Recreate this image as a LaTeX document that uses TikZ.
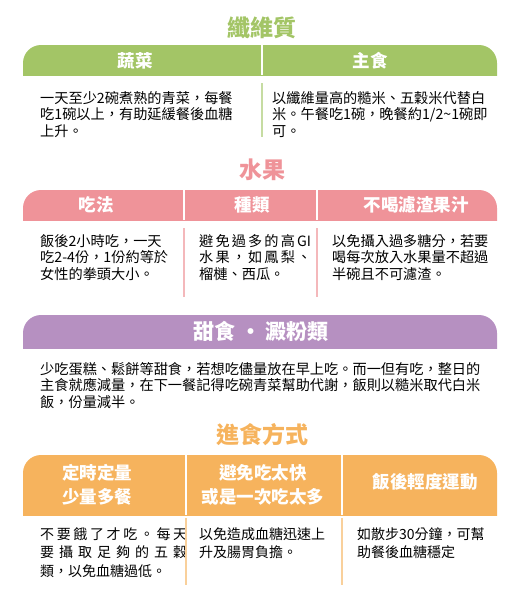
\documentclass[tikz,border=0pt]{standalone}
\usepackage{fontspec}
\setmainfont{Noto Sans CJK TC}
\definecolor{fibre}{HTML}{A3C566}
\definecolor{fibreline}{HTML}{C6DCA2}
\definecolor{fruit}{HTML}{EF9399}
\definecolor{fruitline}{HTML}{F4B8BB}
\definecolor{sweet}{HTML}{B690C1}
\definecolor{habit}{HTML}{F6B35D}
\definecolor{habitline}{HTML}{F9D09B}
% header band with round top corners
\newcommand{\band}[3]{%
  \begin{scope}
    \clip (23,#2) rectangle (497,#3);
    \fill[#1,rounded corners=18pt] (23,#2) rectangle (497,#3+40);
  \end{scope}}

\begin{document}
\begin{tikzpicture}[x=1pt,y=-1pt,
  title/.style={font=\fontsize{23}{23}\selectfont\bfseries},
  head/.style={text=white,align=center,font=\fontsize{17.5}{24}\selectfont\bfseries},
  body/.style={anchor=north west,align=left,inner sep=0pt,font=\fontsize{14.2}{16.5}\selectfont},
  gap/.style={white,line width=2pt},
  rule/.style={line width=1.2pt}]
\useasboundingbox (0,0) rectangle (528,600);

% fibre
\node[title,text=fibre] (fibre) at (262,28) {纖維質};
\band{fibre}{45}{75}
\draw[gap] (262,45) -- (262,75);
\node[head] (veg) at (135,61) {蔬菜};
\node[head] (staple) at (370,61) {主食};
\node[body] (vegtxt) at (40,91) {一天至少2碗煮熟的青菜，每餐\\吃1碗以上，有助延緩餐後血糖\\上升。};
\node[body] (stapletxt) at (272,91) {以纖維量高的糙米、五穀米代替白\\米。午餐吃1碗，晚餐約1/2\textasciitilde1碗即\\可。};
\draw[fibreline,rule] (262,83) -- (262,137);

% fruit
\node[title,text=fruit] (fruit) at (262,170) {水果};
\band{fruit}{190}{220}
\draw[gap] (184,190) -- (184,220);
\draw[gap] (317,190) -- (317,220);
\node[head] (howto) at (96,205) {吃法};
\node[head] (kind) at (252,205) {種類};
\node[head] (juice) at (416,205) {不喝濾渣果汁};
\node[body] (howtotxt) at (40,234) {飯後2小時吃，一天\\吃2-4份，1份約等於\\女性的拳頭大小。};
\node[body] (kindtxt) at (199,234) {\makebox[108pt][s]{避 免 過 多 的 高 GI}\\\makebox[108pt][s]{水 果 ， 如 鳳 梨 、}\\榴槤、西瓜。};
\node[body] (juicetxt) at (332,234) {以免攝入過多糖分，若要\\喝每次放入水果量不超過\\半碗且不可濾渣。};
\draw[fruitline,rule] (184,228) -- (184,297);
\draw[fruitline,rule] (317,228) -- (317,297);

% sweets and starch
\band{sweet}{315}{348}
\node[head,font=\fontsize{21}{21}\selectfont\bfseries] (sweet) at (261,331) {甜食 • 澱粉類};
\node[body] (sweettxt) at (40,362) {少吃蛋糕、鬆餅等甜食，若想吃儘量放在早上吃。而一但有吃，整日的\\主食就應減量，在下一餐記得吃碗青菜幫助代謝，飯則以糙米取代白米\\飯，份量減半。};

% eating habits
\node[title,text=habit] (habit) at (262,435) {進食方式};
\band{habit}{455}{515}
\draw[gap] (186,455) -- (186,515);
\draw[gap] (342,455) -- (342,515);
\node[head] (regular) at (97,485) {定時定量\\少量多餐};
\node[head] (slow) at (263,485) {避免吃太快\\或是一次吃太多};
\node[head] (walk) at (425,482) {飯後輕度運動};
\node[body,font=\fontsize{14}{18.5}\selectfont] (regulartxt) at (40,527) {\makebox[147pt][s]{不 要 餓 了 才 吃 。 每 天}\\\makebox[147pt][s]{要 攝 取 足 夠 的 五 穀}\\類，以免血糖過低。};
\node[body,font=\fontsize{14}{18.5}\selectfont] (slowtxt) at (199,527) {以免造成血糖迅速上\\升及腸胃負擔。};
\node[body,font=\fontsize{14}{18.5}\selectfont] (walktxt) at (357,527) {如散步30分鐘，可幫\\助餐後血糖穩定};
\draw[habitline,rule] (186,518) -- (186,585);
\draw[habitline,rule] (342,518) -- (342,585);
\end{tikzpicture}
\end{document}
